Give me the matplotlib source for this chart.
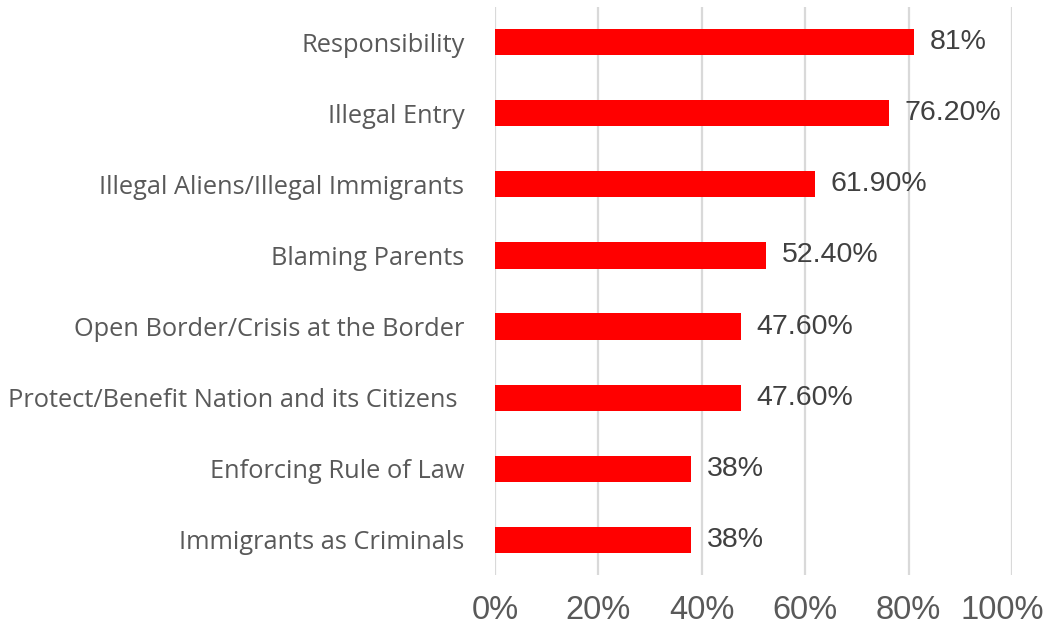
import matplotlib
matplotlib.use('Agg')
import matplotlib.pyplot as plt
import matplotlib.transforms as mtransforms
import numpy as np

# categories top to bottom
categories = ['Responsibility', 'Illegal Entry', 'Illegal Aliens/Illegal Immigrants',
              'Blaming Parents', 'Open Border/Crisis at the Border',
              'Protect/Benefit Nation and its Citizens ', 'Enforcing Rule of Law',
              'Immigrants as Criminals']
values = [81, 76.2, 61.9, 52.4, 47.6, 47.6, 38, 38]
value_labels = ['81%', '76.20%', '61.90%', '52.40%', '47.60%', '47.60%', '38%', '38%']
xticks = [0, 20, 40, 60, 80, 100]
xtick_labels = ['0%', '20%', '40%', '60%', '80%', '100%']

num_font = ['Liberation Sans', 'DejaVu Sans']
cat_font = ['Open Sans', 'DejaVu Sans']

fig = plt.figure(figsize=(10.5, 6.32), dpi=100)
ax = fig.add_axes([0.4714, 0.0894, 0.4924, 0.9003])

y = np.arange(len(categories))
ax.barh(y, values, height=0.37, color='#ff0000', zorder=3)
for yi, v, lab in zip(y, values, value_labels):
    ax.text(v + 3, yi, lab, va='center', ha='left', fontsize=20.5,
            color='#404040', family=num_font)

ax.set_ylim(len(categories) - 0.5, -0.5)
ax.set_xlim(0, 100)
ax.set_yticks(y)
ax.set_yticklabels(categories, family=cat_font, fontsize=18.3, color='#595959')
ax.set_xticks(xticks)
ax.set_xticklabels(xtick_labels, family=num_font, fontsize=23.5, color='#595959')
ax.tick_params(axis='y', length=0, pad=22)
ax.tick_params(axis='x', length=0, pad=14)
# last tick label sits a bit left so it fits
last = ax.get_xticklabels()[-1]
last.set_transform(last.get_transform() +
                   mtransforms.ScaledTranslation(-10 / 100, 0, fig.dpi_scale_trans))
ax.grid(axis='x', color='#d9d9d9', linewidth=1.6, zorder=0)
for s in ax.spines.values():
    s.set_visible(False)

fig.savefig('out.png', dpi=100)
